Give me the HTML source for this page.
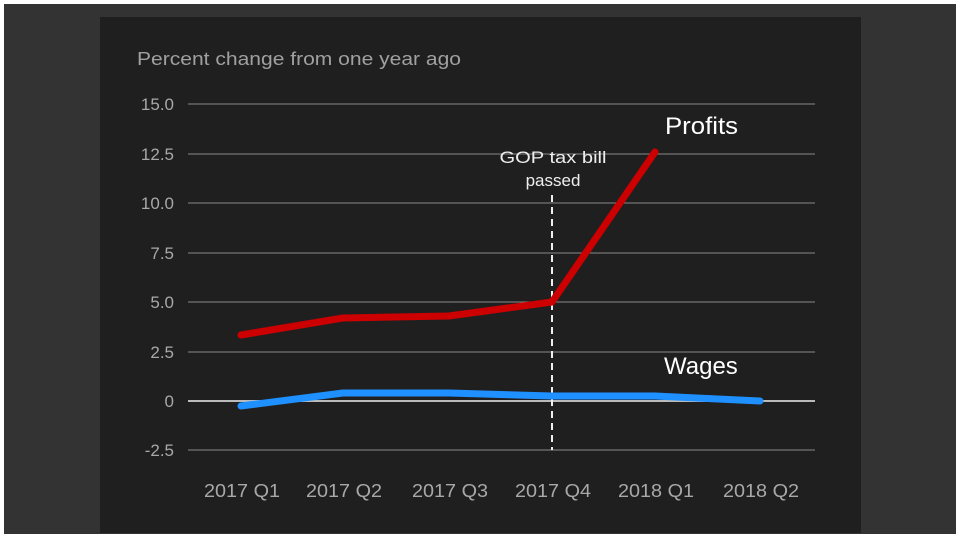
<!DOCTYPE html><html><head><style>body{margin:0;background:#fff}</style></head><body>
<svg width="960" height="540" xmlns="http://www.w3.org/2000/svg" font-family="Liberation Sans, sans-serif">
<rect x="0" y="0" width="960" height="540" fill="#fff"/>
<rect x="4" y="4" width="952" height="530" fill="#333"/>
<rect x="100" y="17" width="761" height="516" fill="#1f1f1f"/>
<text x="137" y="65" fill="#a0a0a0" font-size="18" textLength="324" lengthAdjust="spacingAndGlyphs">Percent change from one year ago</text>
<g stroke="#8a8a8a" stroke-width="1">
<line x1="188" x2="815" y1="104" y2="104"/><line x1="188" x2="815" y1="154" y2="154"/>
<line x1="188" x2="815" y1="203" y2="203"/><line x1="188" x2="815" y1="253" y2="253"/>
<line x1="188" x2="815" y1="302" y2="302"/><line x1="188" x2="815" y1="352" y2="352"/>
<line x1="188" x2="815" y1="450" y2="450"/></g>
<line x1="188" x2="815" y1="401" y2="401" stroke="#bbb" stroke-width="2"/>
<g fill="#a8a8a8" font-size="17" text-anchor="end">
<text x="174" y="110">15.0</text><text x="174" y="160">12.5</text><text x="174" y="209">10.0</text>
<text x="174" y="259">7.5</text><text x="174" y="308">5.0</text><text x="174" y="358">2.5</text>
<text x="174" y="407">0</text><text x="174" y="456">-2.5</text></g>
<g fill="#a8a8a8" font-size="18" text-anchor="middle">
<text x="242" y="497" textLength="76" lengthAdjust="spacingAndGlyphs">2017 Q1</text><text x="344" y="497" textLength="76" lengthAdjust="spacingAndGlyphs">2017 Q2</text><text x="450" y="497" textLength="76" lengthAdjust="spacingAndGlyphs">2017 Q3</text>
<text x="553" y="497" textLength="76" lengthAdjust="spacingAndGlyphs">2017 Q4</text><text x="656" y="497" textLength="76" lengthAdjust="spacingAndGlyphs">2018 Q1</text><text x="761" y="497" textLength="76" lengthAdjust="spacingAndGlyphs">2018 Q2</text></g>
<line x1="552" x2="552" y1="195" y2="450" stroke="#eee" stroke-width="2" stroke-dasharray="7,5"/>
<g fill="#eee" font-size="17" text-anchor="middle"><text x="553" y="163" textLength="107" lengthAdjust="spacingAndGlyphs">GOP tax bill</text><text x="553" y="186">passed</text></g>
<polyline points="241,406 343,393 449,393 552,396 655,396 760,401" fill="none" stroke="#1e90ff" stroke-width="7" stroke-linecap="round" stroke-linejoin="round"/>
<polyline points="241,335 343,318 449,316 552,302 655,152" fill="none" stroke="#cc0000" stroke-width="7" stroke-linecap="round" stroke-linejoin="round"/>
<text x="665" y="134" fill="#fff" font-size="24" textLength="73" lengthAdjust="spacingAndGlyphs">Profits</text>
<text x="664" y="374" fill="#fff" font-size="24">Wages</text>
</svg></body></html>
